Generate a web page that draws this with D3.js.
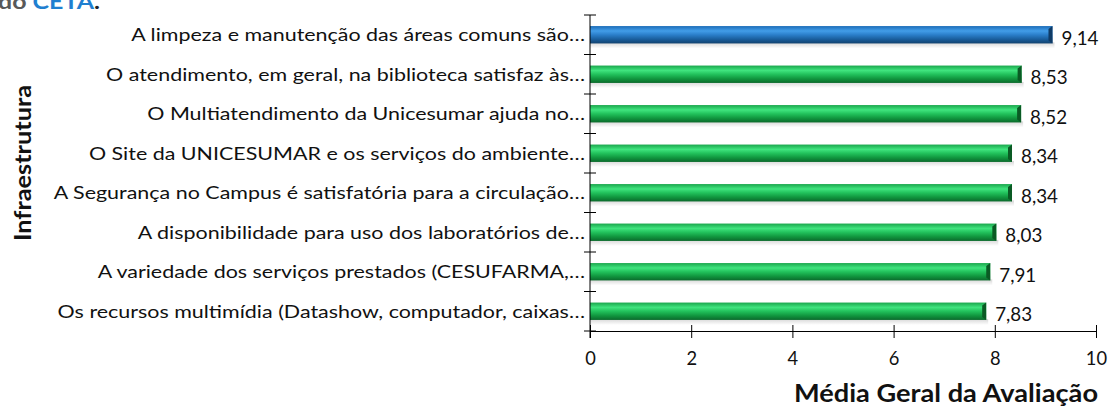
<!DOCTYPE html>
<html>
<head>
<meta charset="utf-8">
<script src="https://cdn.jsdelivr.net/npm/d3@7"></script>
<style>
  body { margin: 0; background: #fff; }
  svg { display: block; font-family: Lato, "Open Sans", sans-serif; }
</style>
</head>
<body>
<script>
// data
var labels = [
  "A limpeza e manutenção das áreas comuns são…",
  "O atendimento, em geral, na biblioteca satisfaz às…",
  "O Multiatendimento da Unicesumar ajuda no…",
  "O Site da UNICESUMAR e os serviços do ambiente…",
  "A Segurança no Campus é satisfatória para a circulação…",
  "A disponibilidade para uso dos laboratórios de…",
  "A variedade dos serviços prestados (CESUFARMA,…",
  "Os recursos multimídia (Datashow, computador, caixas…"
];
var values = [9.14, 8.53, 8.52, 8.34, 8.34, 8.03, 7.91, 7.83];
var highlight = [true, false, false, false, false, false, false, false];
var xTicks = [0, 2, 4, 6, 8, 10];

var W = 1110, H = 409;
var svg = d3.select("body").append("svg")
  .attr("width", W).attr("height", H);

var x = d3.scaleLinear().domain([0, 10]).range([590, 1096]);
var y = d3.scaleBand().domain(d3.range(labels.length)).range([15, 331]).paddingInner(0.56).paddingOuter(0.28);

var defs = svg.append("defs");
function grad(id, stops) {
  var g = defs.append("linearGradient").attr("id", id)
    .attr("x1", 0).attr("y1", 0).attr("x2", 0).attr("y2", 1);
  stops.forEach(function(s) {
    g.append("stop").attr("offset", s[0]).attr("stop-color", s[1]);
  });
}
grad("gGreen", [[0, "#1aa64c"], [0.28, "#40e47e"], [0.5, "#22c25c"], [0.75, "#11973f"], [1, "#0b6a2c"]]);
grad("gBlue", [[0, "#1c6cb8"], [0.28, "#429de8"], [0.5, "#2b7fcb"], [0.75, "#1a5f9e"], [1, "#12426f"]]);
grad("gShadow", [[0, "rgba(0,0,0,0.16)"], [1, "rgba(0,0,0,0)"]]);

// horizontally stretch texts so they take the reference's width
function measure(str, size, weight) {
  var t = svg.append("text").attr("font-size", size).attr("font-weight", weight || "normal").text(str);
  var w = t.node().getComputedTextLength();
  t.remove();
  return w;
}
var kLab = 454 / measure(labels[0], 17.5);
var kVal = 37 / measure("9,14", 19.5);

// title fragment cut off at the top
var title = svg.append("text").attr("x", -2).attr("y", 9)
  .attr("font-size", 20).attr("font-weight", "bold")
  .attr("textLength", 102).attr("lengthAdjust", "spacingAndGlyphs");
title.append("tspan").attr("fill", "#595959").text("do ");
title.append("tspan").attr("fill", "#1f7fd0").text("CETA");
title.append("tspan").attr("fill", "#222").text(".");

// bars
var bars = svg.append("g").selectAll("g").data(values).enter().append("g");
bars.append("rect")
  .attr("x", x(0))
  .attr("y", function(d, i) { return y(i) + y.bandwidth() - 1; })
  .attr("width", function(d) { return x(d) - x(0) + 2; })
  .attr("height", 6)
  .attr("fill", "url(#gShadow)");
bars.append("rect")
  .attr("x", x(0))
  .attr("y", function(d, i) { return y(i); })
  .attr("width", function(d) { return x(d) - x(0); })
  .attr("height", y.bandwidth())
  .attr("fill", function(d, i) { return highlight[i] ? "url(#gBlue)" : "url(#gGreen)"; });
// bevelled end cap
bars.append("path")
  .attr("d", function(d, i) {
    var x1 = x(d), y0 = y(i), b = y.bandwidth();
    return "M" + (x1 - 4) + "," + (y0 + 3) + "L" + x1 + "," + y0 + "L" + x1 + "," + (y0 + b) + "L" + (x1 - 4) + "," + (y0 + b - 3) + "Z";
  })
  .attr("fill", function(d, i) { return highlight[i] ? "#0f3b66" : "#0a5a24"; });

// value labels
bars.append("g")
  .attr("transform", function(d, i) {
    return "translate(" + (x(d) + 9) + "," + (y(i) + y.bandwidth() / 2 + 3) + ") scale(" + kVal + ",1)";
  })
  .append("text")
  .attr("dy", "0.35em")
  .attr("font-size", 19.5)
  .attr("fill", "#111")
  .text(function(d) { return d.toFixed(2).replace(".", ","); });

// y axis
var yAxis = svg.append("g");
yAxis.append("line").attr("x1", x(0)).attr("x2", x(0)).attr("y1", 15).attr("y2", 338)
  .attr("stroke", "#000");
d3.range(labels.length + 1).forEach(function(i) {
  var yy = 15 + i * y.step();
  yAxis.append("line").attr("x1", x(0) - 6).attr("x2", x(0) + 6)
    .attr("y1", yy).attr("y2", yy).attr("stroke", "#000");
});
yAxis.selectAll("g.cat").data(labels).enter().append("g")
  .attr("class", "cat")
  .attr("transform", function(d, i) {
    return "translate(" + (x(0) - 5) + "," + (y(i) + y.bandwidth() / 2) + ") scale(" + kLab + ",1)";
  })
  .append("text")
  .attr("dy", "0.38em")
  .attr("text-anchor", "end")
  .attr("font-size", 17.5)
  .attr("fill", "#111")
  .text(function(d) { return d; });

// x axis
var xAxis = d3.axisBottom(x).tickValues(xTicks).tickSize(7).tickFormat(d3.format("d"));
var gx = svg.append("g").attr("transform", "translate(0,331)").call(xAxis);
gx.select(".domain").attr("stroke", "#000");
gx.selectAll(".tick line").attr("y1", -6).attr("stroke", "#000");
gx.selectAll(".tick text").attr("font-size", 19).attr("fill", "#111")
  .attr("font-family", "Lato, sans-serif").attr("y", 21)
  .attr("transform", "scale(" + kVal + ",1)");

// axis titles
svg.append("text").attr("x", 794).attr("y", 402)
  .attr("font-size", 24).attr("font-weight", "bold")
  .attr("textLength", 304).attr("lengthAdjust", "spacingAndGlyphs")
  .attr("fill", "#111").text("Média Geral da Avaliação");
svg.append("text")
  .attr("transform", "translate(31,241) rotate(-90)")
  .attr("font-size", 22).attr("font-weight", "bold")
  .attr("textLength", 156).attr("lengthAdjust", "spacingAndGlyphs")
  .attr("fill", "#111").text("Infraestrutura");
</script>
</body>
</html>
